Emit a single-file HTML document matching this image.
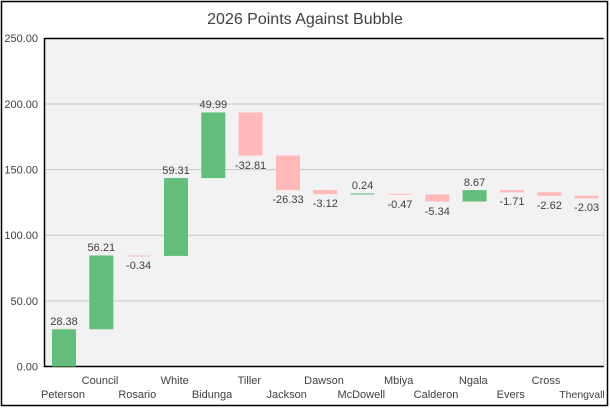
<!DOCTYPE html>
<html><head><meta charset="utf-8"><style>
html,body{margin:0;padding:0;background:#fff}
svg{display:block}
text{font-family:"Liberation Sans",sans-serif;fill:#404040}
</style></head><body>
<svg width="610" height="408" viewBox="0 0 610 408">
<rect x="1.5" y="1.5" width="606" height="404" fill="#fff" stroke="#000" stroke-width="1.5"/>
<text x="305" y="24" font-size="16" text-anchor="middle" fill="#404040">2026 Points Against Bubble</text>
<rect x="44" y="38" width="560" height="328.5" fill="#f2f2f2"/>
<g stroke="#c8c8c8" stroke-width="1">
<line x1="44" x2="604" y1="104.0" y2="104.0"/>
<line x1="44" x2="604" y1="169.6" y2="169.6"/>
<line x1="44" x2="604" y1="235.25" y2="235.25"/>
<line x1="44" x2="604" y1="300.9" y2="300.9"/>
</g>
<path d="M44.5 38.5 H604 M44.5 38 V366.5 H604" stroke="#000" stroke-width="1.5" fill="none"/>
<line x1="604" y1="38" x2="604" y2="366.5" stroke="#d0d0d0"/>
<g font-size="11" text-anchor="end">
<text x="38" y="42">250.00</text>
<text x="38" y="108">200.00</text>
<text x="38" y="173.5">150.00</text>
<text x="38" y="239">100.00</text>
<text x="38" y="305">50.00</text>
<text x="38" y="370.5">0.00</text>
</g>
<g>
<rect x="52" y="329.25" width="24" height="37.25" fill="#63be7b"/>
<rect x="89.3" y="255.48" width="24" height="73.77" fill="#63be7b"/>
<rect x="126.6" y="255.48" width="24" height="1" fill="#ffb9b9"/>
<rect x="164" y="178.08" width="24" height="77.84" fill="#63be7b"/>
<rect x="201.3" y="112.47" width="24" height="65.61" fill="#63be7b"/>
<rect x="238.6" y="112.47" width="24" height="43.06" fill="#ffb9b9"/>
<rect x="276" y="155.53" width="24" height="34.56" fill="#ffb9b9"/>
<rect x="313.3" y="190.09" width="24" height="4.09" fill="#ffb9b9"/>
<rect x="350.6" y="193.5" width="24" height="1" fill="#63be7b"/>
<rect x="388" y="193.87" width="24" height="1" fill="#ffb9b9"/>
<rect x="425.3" y="194.49" width="24" height="7" fill="#ffb9b9"/>
<rect x="462.6" y="190.11" width="24" height="11.38" fill="#63be7b"/>
<rect x="500" y="190.11" width="24" height="2.25" fill="#ffb9b9"/>
<rect x="537.3" y="192.36" width="24" height="3.44" fill="#ffb9b9"/>
<rect x="574.6" y="195.8" width="24" height="2.66" fill="#ffb9b9"/>
</g>
<g font-size="11" text-anchor="middle">
<text x="64" y="325">28.38</text>
<text x="101.3" y="251">56.21</text>
<text x="138.6" y="269">-0.34</text>
<text x="176" y="174">59.31</text>
<text x="213.3" y="108">49.99</text>
<text x="250.6" y="169">-32.81</text>
<text x="288" y="203">-26.33</text>
<text x="325.3" y="207">-3.12</text>
<text x="362.6" y="189">0.24</text>
<text x="400" y="208">-0.47</text>
<text x="437.3" y="215">-5.34</text>
<text x="474.6" y="186">8.67</text>
<text x="512" y="205">-1.71</text>
<text x="549.3" y="209">-2.62</text>
<text x="586.6" y="211">-2.03</text>
</g>
<g font-size="11" text-anchor="middle">
<text x="63" y="398">Peterson</text>
<text x="100" y="384">Council</text>
<text x="137.3" y="398">Rosario</text>
<text x="174.7" y="384">White</text>
<text x="212" y="398">Bidunga</text>
<text x="249.3" y="384">Tiller</text>
<text x="286.7" y="398">Jackson</text>
<text x="324" y="384">Dawson</text>
<text x="361.3" y="398">McDowell</text>
<text x="398.7" y="384">Mbiya</text>
<text x="436" y="398">Calderon</text>
<text x="473.3" y="384">Ngala</text>
<text x="510.7" y="398">Evers</text>
<text x="546" y="384">Cross</text>
<text x="582" y="398" font-size="10.5">Thengvall</text>
</g>
</svg>
</body></html>
